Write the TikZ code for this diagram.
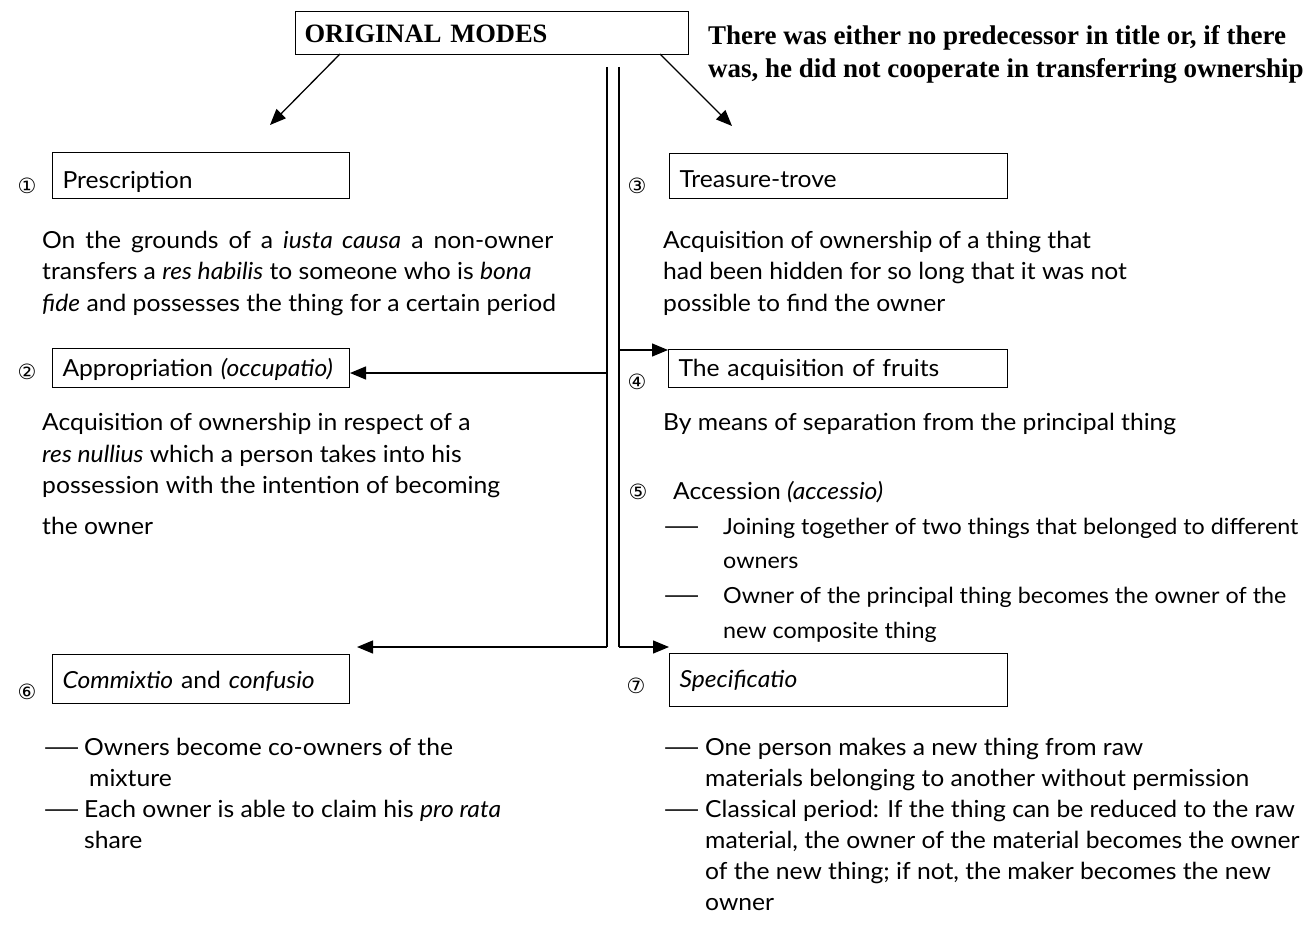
\documentclass[tikz,border=0pt]{standalone}
\usepackage{graphicx}
\usepackage{fontspec}
\setmainfont{Lato}[FakeStretch=1.05]
\newfontfamily\headfont{Liberation Serif}
\newfontfamily\numfont{DejaVu Sans}
\usetikzlibrary{arrows.meta}
\newcommand{\bodysize}{\fontsize{23.5}{31}\selectfont}
\newcommand{\ldash}{\scalebox{2.0}[1]{—}}
\begin{document}
\begin{tikzpicture}[x=1pt,y=-1pt,
  txt/.style={anchor=base west, inner sep=0pt, font=\bodysize},
  small/.style={txt, font=\fontsize{22.2}{31}\selectfont},
  head/.style={anchor=base west, inner sep=0pt, font=\headfont\bfseries\fontsize{27}{31}\selectfont},
  num/.style={anchor=center, inner sep=0pt, font=\numfont\fontsize{21}{21}\selectfont},
  box/.style={draw, line width=1pt, anchor=north west, inner xsep=10pt, inner ysep=0pt, align=left, font=\bodysize},
  conn/.style={line width=1.3pt, -{Triangle[length=16pt,width=13pt]}},
  wire/.style={line width=1.3pt}]
\useasboundingbox (0,0) rectangle (1308,931);

% heading box and its note
\node[box, font=\headfont\bfseries\fontsize{26.5}{30}\selectfont, minimum width=393pt, text width=375pt, text height=31pt, text depth=12pt, inner xsep=9pt] (top) at (295,11) {ORIGINAL MODES};
\node[head] (note1) at (708,45) {There was either no predecessor in title or, if there};
\node[head] (note2) at (708,78) {was, he did not cooperate in transferring ownership};

% mode boxes
\node[box, minimum width=297pt, text width=277pt, text height=36pt, text depth=10pt] (b1) at (52,152) {Prescription};
\node[box, minimum width=297pt, text width=277pt, text height=28pt, text depth=11pt] (b2) at (52,348) {Appropriation \textit{(occupatio)}};
\node[box, minimum width=338pt, text width=318pt, text height=34pt, text depth=11pt] (b3) at (669,153) {Treasure-trove};
\node[box, minimum width=339pt, text width=319pt, text height=27pt, text depth=11pt] (b4) at (668,349) {The acquisition of fruits};
\node[box, minimum width=297pt, text width=277pt, text height=34pt, text depth=15pt] (b6) at (52,654) {\textit{Commixtio} and \textit{confusio}};
\node[box, minimum width=338pt, text width=318pt, text height=34pt, text depth=19pt] (b7) at (669,653) {\textit{Specificatio}};

% circled numbers
\node[num] (n1) at (27,186) {①};
\node[num] (n2) at (27,372) {②};
\node[num] (n3) at (637,186) {③};
\node[num] (n4) at (637,382) {④};
\node[num] (n5) at (638,492) {⑤};
\node[num] (n6) at (27,692) {⑥};
\node[num] (n7) at (636,686) {⑦};

% descriptions, left column
\node[txt] (l1a) at (42,248) {\makebox[511pt][s]{On the grounds of a \textit{iusta causa} a non-owner}};
\node[txt] (l1b) at (42,279) {transfers a \textit{res habilis} to someone who is \textit{bona}};
\node[txt] (l1c) at (42,311) {\textit{fide} and possesses the thing for a certain period};
\node[txt] (l2a) at (42,430) {Acquisition of ownership in respect of a};
\node[txt] (l2b) at (42,462) {\textit{res nullius} which a person takes into his};
\node[txt] (l2c) at (42,493) {possession with the intention of becoming};
\node[txt] (l2d) at (42,534) {the owner};
\node[txt] (l6a) at (42,755) {\ldash};
\node[txt] (l6b) at (84,755) {Owners become co-owners of the};
\node[txt] (l6c) at (89,786) {mixture};
\node[txt] (l6d) at (42,817) {\ldash};
\node[txt] (l6e) at (84,817) {Each owner is able to claim his \textit{pro rata}};
\node[txt] (l6f) at (84,848) {share};

% descriptions, right column
\node[txt] (r3a) at (663,248) {Acquisition of ownership of a thing that};
\node[txt] (r3b) at (663,279) {had been hidden for so long that it was not};
\node[txt] (r3c) at (663,311) {possible to find the owner};
\node[txt] (r4a) at (663,430) {By means of separation from the principal thing};
\node[txt] (r5a) at (673,499) {Accession \textit{(accessio)}};
\node[txt] (r5b) at (662,534) {\ldash};
\node[small] (r5c) at (723,534) {Joining together of two things that belonged to different};
\node[small] (r5d) at (723,568) {owners};
\node[txt] (r5e) at (662,603) {\ldash};
\node[small] (r5f) at (723,603) {Owner of the principal thing becomes the owner of the};
\node[small] (r5g) at (723,638) {new composite thing};
\node[txt] (r7a) at (662,755) {\ldash};
\node[txt] (r7b) at (705,755) {One person makes a new thing from raw};
\node[txt] (r7c) at (705,786) {materials belonging to another without permission};
\node[txt] (r7d) at (662,817) {\ldash};
\node[txt] (r7e) at (705,817) {Classical period: If the thing can be reduced to the raw};
\node[txt] (r7f) at (705,848) {material, the owner of the material becomes the owner};
\node[txt] (r7g) at (705,879) {of the new thing; if not, the maker becomes the new};
\node[txt] (r7h) at (705,910) {owner};

% connector points
\coordinate (dl0) at (340,54);
\coordinate (dl1) at (270,125);
\coordinate (dr0) at (660,54);
\coordinate (dr1) at (732,126);
\coordinate (lt) at (607,67);
\coordinate (lb) at (607,647);
\coordinate (lm) at (607,373);
\coordinate (ltip) at (357,647);
\coordinate (rt) at (619,67);
\coordinate (rb) at (619,647);
\coordinate (rm) at (619,350);

% connectors
\draw[conn] (dl0) -- (dl1);
\draw[conn] (dr0) -- (dr1);
\draw[wire] (lt) -- (lb);
\draw[conn] (lb) -- (ltip);
\draw[conn] (lm) -- (lm -| b2.east);
\draw[wire] (rt) -- (rb);
\draw[conn] (rb) -- (rb -| b7.west);
\draw[conn] (rm) -- (rm -| b4.west);
\end{tikzpicture}
\end{document}
